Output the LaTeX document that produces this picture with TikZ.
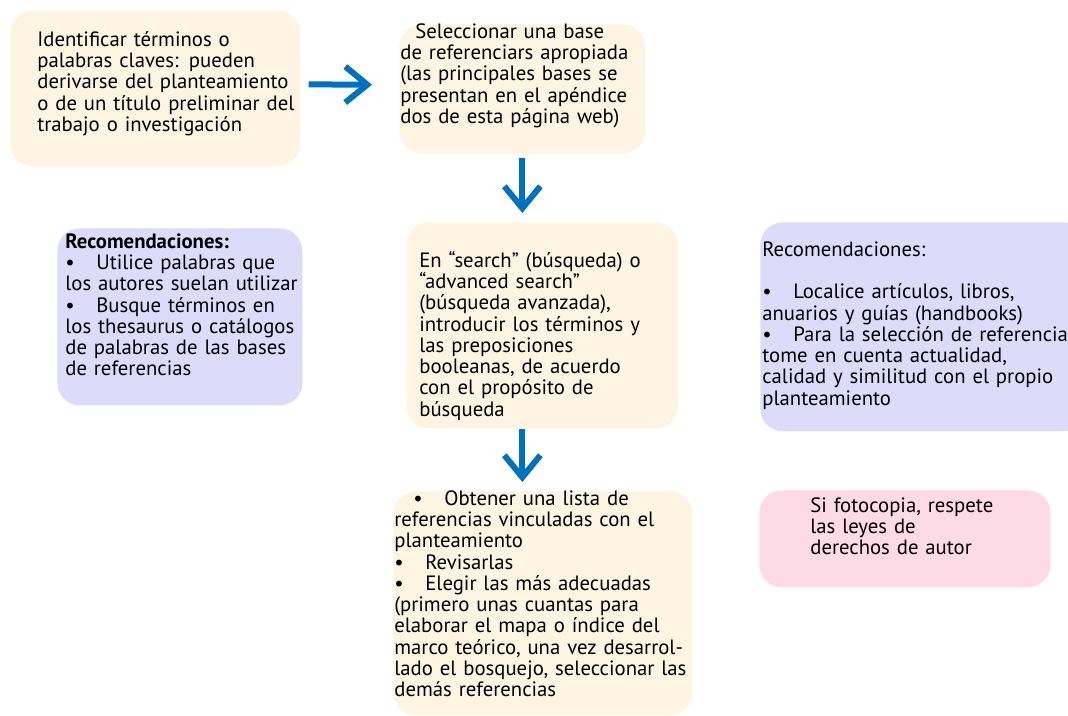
\documentclass[tikz,border=0pt]{standalone}
\usepackage{fontspec}
\setmainfont{PT Sans}
\usetikzlibrary{arrows.meta}

\definecolor{crema}{RGB}{253,245,226}
\definecolor{lavanda}{RGB}{220,220,250}
\definecolor{rosa}{RGB}{253,218,230}
\definecolor{azul}{RGB}{0,112,192}

\newcommand{\vineta}{\makebox[0.62cm][l]{\textbullet}}
\newcommand{\margen}[1]{\leftskip=#1\rightskip=-3cm plus 1fil\relax}

\tikzset{
    caja/.style={anchor=north west, rounded corners=0.45cm, inner sep=0pt, align=left,
        font=\fontsize{11.8}{12.1}\selectfont},
    flecha/.style={draw=azul, line width=0.12cm, -{Straight Barb[length=0.44cm, width=0.72cm]}}
}

\begin{document}
\begin{tikzpicture}
            \useasboundingbox (0, 0) rectangle (21.36, 14.32);
            %\draw[lightgray] (0, 0) grid (21, 14);
            \node[caja, fill=crema, text width=5.8cm, text height=0.72cm, text depth=2.4cm](terminos) at (0.2, 14.12)
                {\margen{0.54cm}Identificar términos o\\ palabras claves: pueden\\ derivarse del planteamiento\\ o de un título preliminar del\\ trabajo o investigación\par};
            \node[caja, fill=crema, text width=4.92cm, text height=0.28cm, text depth=2.3cm](seleccion) at (7.98, 13.84)
                {\margen{0.02cm}\hspace*{0.3cm}Seleccionar una base\\ de referenciars apropiada\\ (las principales bases se\\ presentan en el apéndice\\ dos de esta página web)\par};
            \node[caja, fill=crema, text width=5.44cm, text height=0.9cm, text depth=3.22cm](busqueda) at (8.12, 9.88)
                {\margen{0.26cm}En “search” (búsqueda) o\\ “advanced search”\\ (búsqueda avanzada),\\ introducir los términos y\\ las preposiciones\\ booleanas, de acuerdo\\ con el propósito de\\ búsqueda\par};
            \node[caja, fill=crema, text width=5.98cm, text height=0.28cm, text depth=4.2cm](lista) at (7.86, 4.5)
                {\margen{0.02cm}\hspace*{0.38cm}\vineta Obtener una lista de\\ referencias vinculadas con el\\ planteamiento\\ \vineta Revisarlas\\ \vineta Elegir las más adecuadas\\ (primero unas cuantas para\\ elaborar el mapa o índice del\\ marco teórico, una vez desarrol-\\ lado el bosquejo, seleccionar las\\ demás referencias\par};
            
            \node[caja, fill=lavanda, text width=4.9cm, text height=0.4cm, text depth=3.14cm](recomendaciones) at (1.14, 9.76)
                {\margen{0.16cm}\textbf{Recomendaciones:}\\ \vineta Utilice palabras que\\ los autores suelan utilizar\\ \vineta Busque términos en\\ los thesaurus o catálogos\\ de palabras de las bases\\ de referencias\par};
            \node[caja, fill=lavanda, text width=6.5cm, text height=0.68cm, text depth=3.5cm](consejos) at (15.2, 9.88)
                {\margen{0.04cm}Recomendaciones:\\[12.1pt] \vineta Localice artículos, libros,\\ anuarios y guías (handbooks)\\ \vineta Para la selección de referencias\\ tome en cuenta actualidad,\\ calidad y similitud con el propio\\ planteamiento\par};
            \node[caja, fill=rosa, text width=5.82cm, text height=0.44cm, text depth=1.5cm](derechos) at (15.18, 4.52)
                {\margen{1.02cm}Si fotocopia, respete\\ las leyes de\\ derechos de autor\par};
            
            \draw[flecha, shorten <=0.16cm, shorten >=0.54cm] ([yshift=0.08cm]terminos.east) -- ([yshift=0.08cm]seleccion.west);
            \draw[flecha, shorten <=0.08cm, shorten >=0.18cm] (seleccion.south) -- (seleccion.south |- busqueda.north);
            \draw[flecha, shorten >=0.18cm] (seleccion.south |- busqueda.south) -- (seleccion.south |- lista.north);
        \end{tikzpicture}
\end{document}
